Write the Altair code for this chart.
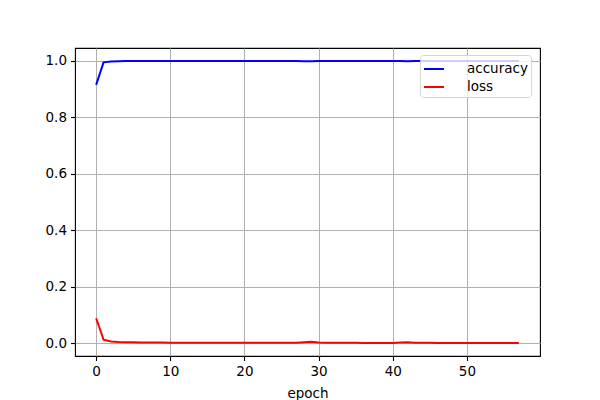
import altair as alt
import pandas as pd

epochs = list(range(58))
accuracy = [0.915, 0.995, 0.998, 0.999, 0.9993, 0.9995, 0.9996, 0.9997, 0.9997, 0.9998,
            0.9998, 0.9998, 0.9998, 0.9999, 0.9999, 0.9999, 0.9999, 0.9999, 0.9999, 0.9999,
            0.9999, 0.9999, 0.9999, 0.9999, 0.9999, 0.9999, 0.9999, 0.9999, 0.9992, 0.9985,
            0.9995, 0.9998, 0.9999, 0.9999, 0.9999, 0.9999, 0.9999, 0.9999, 0.9999, 0.9999,
            0.9999, 0.9995, 0.999, 0.9997, 0.9999, 0.9999, 0.9999, 0.9999, 0.9999, 1.0,
            1.0, 1.0, 1.0, 1.0, 1.0, 1.0, 1.0, 1.0]
loss = [0.088, 0.012, 0.006, 0.0042, 0.0033, 0.0028, 0.0024, 0.0021, 0.0019, 0.0017,
        0.0016, 0.0015, 0.0014, 0.0013, 0.0012, 0.0012, 0.0011, 0.0011, 0.0010, 0.0010,
        0.0010, 0.0009, 0.0009, 0.0009, 0.0008, 0.0008, 0.0008, 0.0008, 0.0025, 0.0045,
        0.0022, 0.0012, 0.0010, 0.0009, 0.0008, 0.0008, 0.0007, 0.0007, 0.0007, 0.0007,
        0.0007, 0.0018, 0.0032, 0.0015, 0.0009, 0.0008, 0.0007, 0.0007, 0.0006, 0.0006,
        0.0006, 0.0006, 0.0005, 0.0005, 0.0005, 0.0005, 0.0005, 0.0005]
series = ["accuracy", "loss"]
colors = ["#0000ff", "#ff0000"]

rows = []
for e, a, l in zip(epochs, accuracy, loss):
    rows.append({"epoch": e, "value": a, "series": "accuracy"})
    rows.append({"epoch": e, "value": l, "series": "loss"})
df = pd.DataFrame(rows)

FONT = "DejaVu Sans"

chart = alt.Chart(df).mark_line(strokeWidth=2).encode(
    x=alt.X("epoch:Q",
            scale=alt.Scale(domain=[-2.85, 59.85], nice=False, zero=False),
            axis=alt.Axis(values=[0, 10, 20, 30, 40, 50], title="epoch", format="d",
                          labelPadding=4, titlePadding=8)),
    y=alt.Y("value:Q",
            scale=alt.Scale(domain=[-0.0458, 1.0458], nice=False, zero=False),
            axis=alt.Axis(values=[0.0, 0.2, 0.4, 0.6, 0.8, 1.0], format=".1f", title=None,
                          labelPadding=4)),
    color=alt.Color("series:N",
                    scale=alt.Scale(domain=series, range=colors),
                    legend=alt.Legend(title=None, orient="none", legendX=345, legendY=7,
                                      symbolType="stroke", symbolSize=400, symbolStrokeWidth=2,
                                      labelFontSize=13.5, labelFont=FONT, labelColor="black",
                                      fillColor="rgba(255,255,255,0.8)",
                                      strokeColor="rgba(204,204,204,0.8)", cornerRadius=3,
                                      padding=3, rowPadding=0, labelOffset=22, offset=0)),
    order=alt.Order("epoch:Q"),
).properties(
    width=465, height=308,
    autosize=alt.AutoSizeParams(type="none"),
    padding={"left": 67, "top": 40, "right": 52, "bottom": 50},
).configure_view(
    stroke="black", strokeWidth=1.1,
).configure_axis(
    grid=True, gridColor="#b0b0b0", gridWidth=1,
    domain=False,
    ticks=True, tickColor="black", tickSize=4.5, tickWidth=1.1,
    labelFont=FONT, labelFontSize=13.5, labelColor="black",
    titleFont=FONT, titleFontSize=13.5, titleFontWeight="normal", titleColor="black",
)

chart.save("out.html", embed_options={"renderer": "svg", "actions": False})
